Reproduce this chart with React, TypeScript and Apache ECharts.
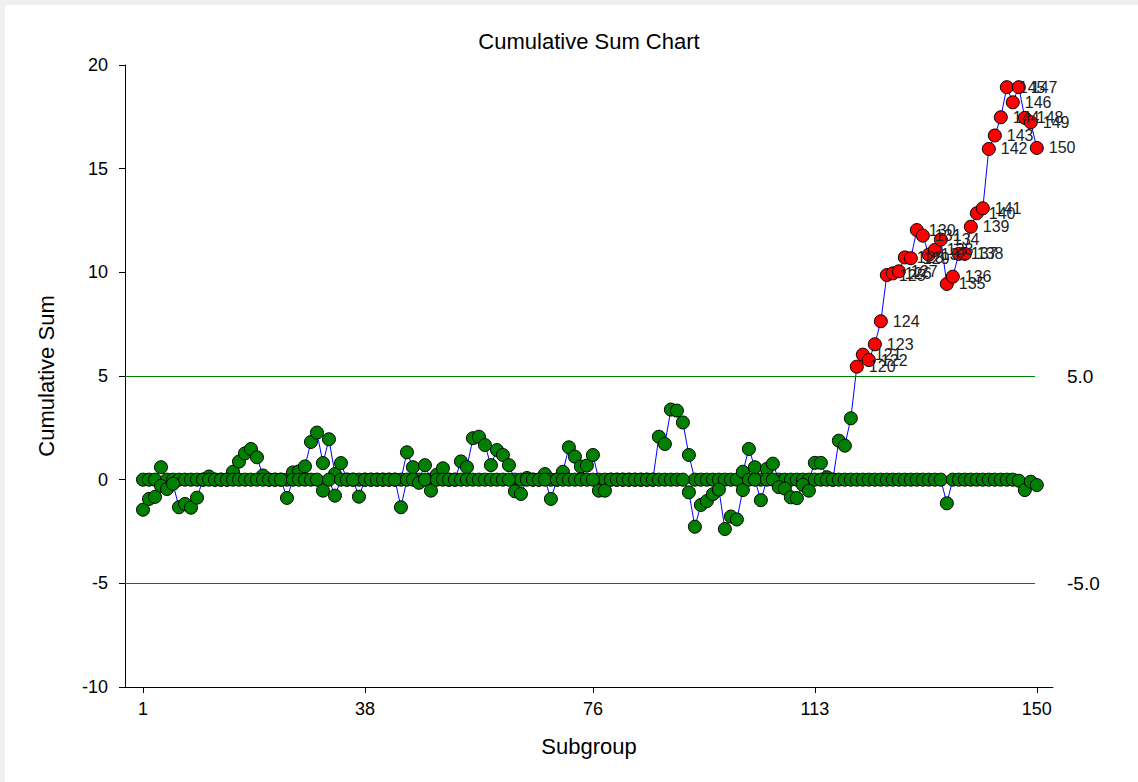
import React, { useEffect, useRef } from "react";
import * as echarts from "echarts";

// Subgroup numbers along the x axis
const SUBGROUPS = Array.from({ length: 150 }, (_, i) => i + 1);

// Upper (high-side) cumulative sum per subgroup
const UPPER_CUSUM = [
  0, 0, 0, 0.6, 0, 0, 0, 0, 0, 0,
  0, 0.15, 0, 0, 0, 0.38, 0.87, 1.27, 1.48, 1.08,
  0.2, 0, 0, 0, 0, 0.35, 0.4, 0.64, 1.82, 2.27,
  0.8, 1.95, 0.27, 0.8, 0, 0, 0, 0, 0, 0,
  0, 0, 0, 0, 1.32, 0.6, 0, 0.7, 0, 0.24,
  0.55, 0, 0, 0.88, 0.6, 2.0, 2.07, 1.67, 0.7, 1.43,
  1.19, 0.7, 0, 0, 0.08, 0, 0, 0.27, 0, 0,
  0.38, 1.56, 1.11, 0.63, 0.68, 1.19, 0, 0, 0, 0,
  0, 0, 0, 0, 0, 0, 2.07, 1.72, 3.38, 3.33,
  2.76, 1.19, 0, 0, 0, 0, 0, 0, 0, 0,
  0.38, 1.48, 0.6, 0, 0.52, 0.77, 0, 0, 0, 0,
  0, 0, 0.81, 0.81, 0.12, 0, 1.88, 1.64, 2.96, 5.45,
  6.03, 5.77, 6.53, 7.64, 9.87, 9.95, 10.05, 10.72, 10.68, 12.04,
  11.77, 10.85, 11.08, 11.58, 9.44, 9.79, 10.89, 10.89, 12.2, 12.85,
  13.09, 15.95, 16.6, 17.48, 18.93, 18.2, 18.93, 17.45, 17.24, 16.0,
];

// Lower (low-side) cumulative sum per subgroup
const LOWER_CUSUM = [
  -1.45, -0.93, -0.83, -0.3, -0.45, -0.2, -1.33, -1.17, -1.35, -0.87,
  0, 0, 0, 0, 0, 0, 0, 0, 0, 0,
  0, 0, 0, 0, -0.88, 0, 0, 0, 0, 0,
  -0.53, 0, -0.77, 0, 0, 0, -0.82, 0, 0, 0,
  0, 0, 0, -1.33, 0, 0, -0.15, 0, -0.53, 0,
  0, 0, 0, 0, 0, 0, 0, 0, 0, 0,
  0, 0, -0.56, -0.69, 0, 0, 0, 0, -0.93, 0,
  0, 0, 0, 0, 0, 0, -0.53, -0.53, 0, 0,
  0, 0, 0, 0, 0, 0, 0, 0, 0, 0,
  0, -0.61, -2.27, -1.22, -1.03, -0.7, -0.48, -2.38, -1.78, -1.92,
  -0.5, 0, 0, -0.99, 0, 0, -0.36, -0.43, -0.85, -0.89,
  -0.25, -0.53, 0, 0, 0, 0, 0, 0, 0, 0,
  0, 0, 0, 0, 0, 0, 0, 0, 0, 0,
  0, 0, 0, 0, -1.14, 0, 0, 0, 0, 0,
  0, 0, 0, 0, 0, 0, -0.05, -0.5, -0.1, -0.26,
];

// Decision interval and its labels
const DECISION_LIMIT = 5;
const LIMIT_LABELS = ["5.0", "-5.0"];

// Labelled subgroups on the x axis
const X_TICKS = [1, 38, 76, 113, 150];

const FONT = '"Liberation Sans", Arial, Helvetica, sans-serif';

export default function App() {
  const ref = useRef<HTMLDivElement>(null);

  useEffect(() => {
    const chart = echarts.init(ref.current!, null, { renderer: "svg" });

    const toPoints = (values: number[], isOut: (v: number) => boolean) =>
      SUBGROUPS.map((s, i) => {
        const v = values[i];
        return isOut(v)
          ? { value: [s, v], itemStyle: { color: "#ff0000" }, label: { show: true } }
          : { value: [s, v] };
      });

    const upperData = toPoints(UPPER_CUSUM, (v) => v > DECISION_LIMIT);
    const lowerData = toPoints(LOWER_CUSUM, (v) => v < -DECISION_LIMIT);

    const pointSeries = {
      type: "line",
      symbol: "circle",
      symbolSize: 13,
      lineStyle: { color: "#0000ff", width: 1 },
      itemStyle: { color: "#008000", borderColor: "#000", borderWidth: 1 },
      label: {
        show: false,
        position: "right",
        distance: 5,
        fontFamily: FONT,
        fontSize: 16,
        color: "#222",
        formatter: (p: any) => String(p.value[0]),
      },
      emphasis: { disabled: true },
    };

    const xMin = -2;
    const xEnd = 149.7;

    chart.setOption({
      animation: false,
      textStyle: { fontFamily: FONT },
      graphic: [
        {
          type: "rect",
          z: -10,
          shape: { x: 5, y: 5, width: 1133, height: 777 },
          style: { fill: "#ffffff" },
        },
        {
          type: "text",
          x: 589,
          y: 41,
          style: {
            text: "Cumulative Sum Chart",
            fontFamily: FONT,
            fontSize: 22,
            fill: "#000",
            textAlign: "center",
            textVerticalAlign: "middle",
          },
        },
      ],
      grid: { left: 125, right: 85, top: 65, bottom: 95 },
      xAxis: {
        type: "value",
        min: xMin,
        max: 152.7,
        axisLine: { show: true, onZero: false, lineStyle: { color: "#000", width: 1 } },
        axisTick: { show: true, length: 6, customValues: X_TICKS, lineStyle: { color: "#000" } },
        axisLabel: { customValues: X_TICKS, fontSize: 18, color: "#000", margin: 13, fontFamily: FONT },
        splitLine: { show: false },
        name: "Subgroup",
        nameLocation: "middle",
        nameGap: 48,
        nameTextStyle: { fontSize: 22, color: "#000", fontFamily: FONT },
      },
      yAxis: {
        type: "value",
        min: -10,
        max: 20,
        interval: 5,
        axisLine: { show: true, onZero: false, lineStyle: { color: "#000", width: 1 } },
        axisTick: { show: true, length: 6, lineStyle: { color: "#000" } },
        axisLabel: { fontSize: 18, color: "#000", margin: 17, fontFamily: FONT },
        splitLine: { show: false },
        name: "Cumulative Sum",
        nameLocation: "middle",
        nameRotate: 90,
        nameGap: 68,
        nameTextStyle: { fontSize: 22, color: "#000", fontFamily: FONT },
      },
      series: [
        {
          ...pointSeries,
          name: "Upper CUSUM",
          data: upperData,
          z: 3,
          markLine: {
            silent: true,
            symbol: "none",
            lineStyle: { color: "#008000", width: 1, type: "solid" },
            label: {
              show: true,
              position: "end",
              distance: 32,
              formatter: "{b}",
              fontSize: 19,
              color: "#000",
              fontFamily: FONT,
            },
            data: [
              [
                { name: LIMIT_LABELS[0], coord: [xMin, DECISION_LIMIT] },
                { coord: [xEnd, DECISION_LIMIT] },
              ],
              [
                { name: LIMIT_LABELS[1], coord: [xMin, -DECISION_LIMIT] },
                { coord: [xEnd, -DECISION_LIMIT] },
              ],
            ],
          },
        },
        {
          ...pointSeries,
          name: "Lower CUSUM",
          data: lowerData,
          z: 4,
        },
      ],
    });

    return () => chart.dispose();
  }, []);

  return (
    <div
      style={{
        position: "fixed",
        left: 0,
        top: 0,
        width: 1138,
        height: 782,
        background: "#f0f0f0",
      }}
    >
      <div ref={ref} style={{ width: 1138, height: 782 }} />
    </div>
  );
}
